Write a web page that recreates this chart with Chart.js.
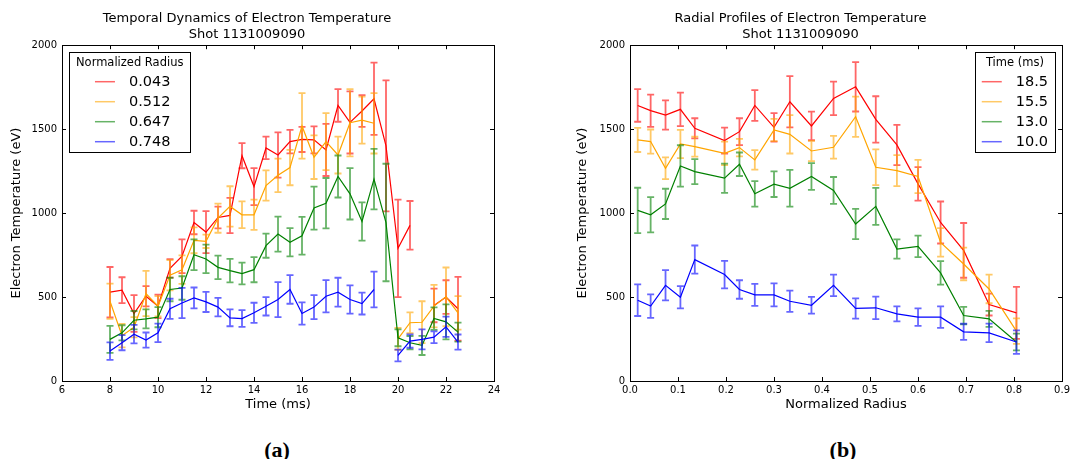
<!DOCTYPE html>
<html>
<head>
<meta charset="utf-8">
<script src="https://cdn.jsdelivr.net/npm/chart.js@4.4.0/dist/chart.umd.min.js"></script>
<style>
  html, body { margin:0; padding:0; background:#fff; }
  #wrap { position:relative; width:1073px; height:459px; overflow:hidden; background:#fff; }
  canvas { position:absolute; top:0; }
  .lab { position:absolute; font-family:"Liberation Serif","Times New Roman",serif; font-weight:bold; font-size:22px; line-height:22px; transform:translateX(-50%); color:#000; }
</style>
</head>
<body>
<div id="wrap">
  <canvas id="c1" width="536" height="420" style="left:0px;width:536px;height:420px"></canvas>
  <canvas id="c2" width="537" height="420" style="left:536px;width:537px;height:420px"></canvas>
  <div class="lab" style="left:277px;top:439px">(a)</div>
  <div class="lab" style="left:843px;top:439px">(b)</div>
</div>
<script>
// ---------- Data: temporal dynamics ----------
const times = [8, 8.5, 9, 9.5, 10, 10.5, 11, 11.5, 12, 12.5, 13, 13.5, 14, 14.5, 15, 15.5, 16, 16.5, 17, 17.5, 18, 18.5, 19, 19.5, 20, 20.5, 21, 21.5, 22, 22.5];
const radiusLabels = ['0.043', '0.512', '0.647', '0.748'];
const te_r043 = [529, 541, 402, 505, 445, 671, 743, 944, 887, 974, 986, 1342, 1158, 1388, 1346, 1426, 1439, 1436, 1376, 1641, 1540, 1608, 1681, 1400, 790, 927, null, 450, 500, 430];
const err_r043 = [150, 77, 110, 60, 70, 55, 100, 70, 125, 65, 105, 75, 110, 67, 135, 70, 75, 80, 155, 97, 185, 95, 215, 390, 290, 145, null, 100, 100, 190];
const te_r512 = [475, 270, 320, 521, 445, 630, 663, 838, 832, 970, 1040, 990, 990, 1164, 1225, 1271, 1519, 1333, 1426, 1346, 1538, 1554, 1535, null, 251, 347, 350, 446, 501, 406];
const err_r512 = [105, 70, 60, 135, 60, 90, 85, 77, 40, 87, 120, 80, 90, 90, 100, 105, 195, 130, 170, 110, 200, 140, 180, null, 65, 62, 125, 127, 175, 100];
const te_r647 = [248, 287, 362, 370, 380, 545, 554, 752, 727, 677, 657, 640, 663, 806, 875, 826, 865, 1030, 1059, 1218, 1115, 950, 1202, 944, 257, 228, 212, 372, 352, 291];
const err_r647 = [80, 45, 55, 57, 60, 70, 70, 92, 85, 70, 70, 65, 75, 72, 104, 84, 112, 128, 150, 125, 153, 114, 180, 350, 50, 40, 57, 67, 104, 57];
const te_r748 = [178, 228, 279, 244, 287, 430, 465, 495, 471, 440, 376, 372, 406, 445, 485, 545, 402, 440, 505, 529, 485, 461, 545, null, 152, 238, 248, 261, 323, 232];
const err_r748 = [52, 45, 55, 45, 55, 60, 90, 62, 60, 55, 50, 50, 60, 55, 104, 85, 66, 72, 96, 86, 84, 65, 106, null, 35, 40, 60, 35, 60, 45];

// ---------- Data: radial profiles ----------
const radii = [0.016, 0.043, 0.074, 0.105, 0.135, 0.197, 0.228, 0.260, 0.300, 0.333, 0.378, 0.424, 0.470, 0.512, 0.556, 0.600, 0.647, 0.695, 0.748, 0.805];
const timeLabels = ['18.5', '15.5', '13.0', '10.0'];
const te_t185 = [1641, 1610, 1584, 1618, 1505, 1432, 1485, 1641, 1511, 1663, 1519, 1683, 1752, 1558, 1406, 1174, 944, 778, 455, 406];
const err_t185 = [97, 96, 87, 100, 60, 77, 80, 92, 85, 153, 85, 100, 147, 138, 120, 100, 125, 163, 65, 155];
const te_t155 = [1436, 1426, 1267, 1412, 1396, 1356, 1390, 1317, 1495, 1469, 1370, 1392, 1574, 1273, 1253, 1218, 826, 697, 548, 297];
const err_t155 = [72, 72, 65, 84, 60, 70, 52, 58, 66, 114, 60, 68, 120, 106, 92, 99, 85, 97, 85, 76];
const te_t130 = [1016, 990, 1055, 1281, 1247, 1208, 1291, 1115, 1172, 1148, 1218, 1135, 935, 1040, 786, 802, 644, 390, 370, 232];
const err_t130 = [135, 105, 90, 123, 75, 87, 70, 76, 76, 110, 80, 80, 90, 110, 57, 64, 70, 52, 48, 50];
const te_t100 = [481, 446, 570, 499, 723, 634, 545, 513, 513, 475, 451, 570, 432, 436, 400, 380, 380, 293, 287, 232];
const err_t100 = [94, 70, 90, 66, 84, 82, 55, 66, 69, 63, 50, 64, 60, 67, 45, 52, 64, 48, 55, 70];

const yTicks = [0, 500, 1000, 1500, 2000];
const xTicksTime = [6, 8, 10, 12, 14, 16, 18, 20, 22, 24];
const xTicksRadius = [0.0, 0.1, 0.2, 0.3, 0.4, 0.5, 0.6, 0.7, 0.8, 0.9];

const colors = ['#ff0000', '#ffa500', '#008000', '#0000ff'];
const colorsA = ['rgba(255,0,0,0.6)', 'rgba(255,165,0,0.6)', 'rgba(0,128,0,0.6)', 'rgba(0,0,255,0.6)'];

const FONT = '"DejaVu Sans", sans-serif';

function pts(xs, ys) { return xs.map((x, i) => ({ x: x, y: ys[i] })); }

function makeDatasets(xs, series, errs, labels) {
  return series.map((s, i) => ({
    label: labels[i],
    data: pts(xs, s),
    errors: errs[i],
    borderColor: colors[i],
    backgroundColor: colors[i],
    borderWidth: 1.2,
    pointRadius: 0,
    pointHoverRadius: 0,
    tension: 0,
    spanGaps: false,
    order: 4 - i
  }));
}

// error bar plugin: draws bars for a dataset just before its line
const errorBars = {
  id: 'errorBars',
  beforeDatasetDraw(chart, args) {
    const ds = chart.data.datasets[args.index];
    const errs = ds.errors;
    if (!errs) return;
    const xs = chart.scales.x, ys = chart.scales.y;
    const ctx = chart.ctx;
    ctx.save();
    ctx.strokeStyle = colorsA[args.index];
    ctx.lineWidth = 1.8;
    ds.data.forEach((p, i) => {
      if (p.y === null || errs[i] === null || errs[i] === undefined) return;
      const px = xs.getPixelForValue(p.x);
      const y1 = ys.getPixelForValue(p.y + errs[i]);
      const y2 = ys.getPixelForValue(p.y - errs[i]);
      ctx.beginPath();
      ctx.moveTo(px, y1); ctx.lineTo(px, y2);
      ctx.moveTo(px - 3.5, y1); ctx.lineTo(px + 3.5, y1);
      ctx.moveTo(px - 3.5, y2); ctx.lineTo(px + 3.5, y2);
      ctx.stroke();
    });
    ctx.restore();
  }
};

// frame with inward ticks, matplotlib style
const frame = {
  id: 'frame',
  afterDatasetsDraw(chart) {
    const { ctx, chartArea: a } = chart;
    const xs = chart.scales.x, ys = chart.scales.y;
    ctx.save();
    ctx.strokeStyle = '#000';
    ctx.lineWidth = 1;
    ctx.beginPath();
    xs.ticks.forEach(t => {
      const px = Math.round(xs.getPixelForValue(t.value)) + 0.5;
      ctx.moveTo(px, a.bottom); ctx.lineTo(px, a.bottom - 4);
      ctx.moveTo(px, a.top); ctx.lineTo(px, a.top + 4);
    });
    ys.ticks.forEach(t => {
      const py = Math.round(ys.getPixelForValue(t.value)) + 0.5;
      ctx.moveTo(a.left, py); ctx.lineTo(a.left + 4, py);
      ctx.moveTo(a.right, py); ctx.lineTo(a.right - 4, py);
    });
    ctx.stroke();
    ctx.strokeRect(Math.round(a.left) + 0.5, Math.round(a.top) + 0.5, Math.round(a.right - a.left), Math.round(a.bottom - a.top));
    ctx.restore();
  }
};

// boxed legend with title, inside the plot area
const boxLegend = {
  id: 'boxLegend',
  afterDraw(chart, args, opts) {
    const { ctx, chartArea: a } = chart;
    const dsets = chart.data.datasets;
    ctx.save();
    ctx.font = '11.5px ' + FONT;
    const titleW = ctx.measureText(opts.title).width;
    ctx.font = '14.5px ' + FONT;
    let tw = 0;
    dsets.forEach(d => { tw = Math.max(tw, ctx.measureText(d.label).width); });
    const handle = 20, gap = 14, pad = 7;
    const itemsW = handle + gap + tw;
    const inner = Math.max(titleW, itemsW);
    const boxW = inner + 2 * pad;
    const boxH = 100;
    const left = opts.side === 'left' ? a.left + 7 : a.right - 7 - boxW;
    const top = a.top + 7;
    ctx.fillStyle = '#fff';
    ctx.fillRect(left, top, boxW, boxH);
    ctx.strokeStyle = '#000';
    ctx.lineWidth = 1;
    ctx.strokeRect(Math.round(left) + 0.5, Math.round(top) + 0.5, Math.round(boxW), boxH);
    ctx.fillStyle = '#000';
    ctx.textBaseline = 'middle';
    ctx.textAlign = 'center';
    ctx.font = '11.5px ' + FONT;
    ctx.fillText(opts.title, left + boxW / 2, top + 10.5);
    const ix = left + pad + (inner - itemsW) / 2 + opts.shift;
    ctx.textAlign = 'left';
    ctx.font = '14.5px ' + FONT;
    dsets.forEach((d, i) => {
      const y = top + 29.5 + i * 20;
      ctx.strokeStyle = colorsA[i];
      ctx.lineWidth = 1.5;
      ctx.beginPath();
      ctx.moveTo(ix, y); ctx.lineTo(ix + handle, y);
      ctx.stroke();
      ctx.fillStyle = '#000';
      ctx.fillText(d.label, ix + handle + gap, y + 0.5);
    });
    ctx.restore();
  }
};

function makeChart(id, cfg) {
  return new Chart(document.getElementById(id), {
    type: 'line',
    data: { datasets: cfg.datasets },
    plugins: [errorBars, frame, boxLegend],
    options: {
      responsive: false,
      animation: false,
      devicePixelRatio: 1,
      layout: { padding: { left: 0, right: cfg.padRight, top: 0, bottom: 0 } },
      plugins: {
        legend: { display: false },
        tooltip: { enabled: false },
        title: {
          display: true,
          text: cfg.title,
          color: '#000',
          font: { family: FONT, size: 13, weight: 'normal', lineHeight: 1.2 },
          padding: { top: 11, bottom: 3 }
        },
        boxLegend: { title: cfg.legendTitle, side: cfg.legendSide, shift: cfg.legendShift }
      },
      scales: {
        x: {
          type: 'linear',
          min: cfg.xTicks[0],
          max: cfg.xTicks[cfg.xTicks.length - 1],
          afterBuildTicks: (s) => { s.ticks = cfg.xTicks.map(v => ({ value: v })); },
          afterFit: (s) => { s.height = 39; },
          grid: { display: false, drawTicks: false },
          border: { display: false },
          ticks: {
            color: '#000',
            font: { family: FONT, size: 10 },
            padding: 3,
            maxRotation: 0,
            autoSkip: false,
            callback: cfg.xFmt
          },
          title: {
            display: true,
            text: cfg.xTitle,
            color: '#000',
            font: { family: FONT, size: 13 },
            padding: { top: 0, bottom: 8 }
          }
        },
        y: {
          type: 'linear',
          min: 0,
          max: 2000,
          afterBuildTicks: (s) => { s.ticks = yTicks.map(v => ({ value: v })); },
          afterFit: (s) => { s.width = cfg.yWidth; },
          grid: { display: false, drawTicks: false },
          border: { display: false },
          ticks: {
            color: '#000',
            font: { family: FONT, size: 10 },
            padding: 5,
            autoSkip: false,
            callback: (v) => String(v)
          },
          title: {
            display: true,
            text: 'Electron Temperature (eV)',
            color: '#000',
            font: { family: FONT, size: 13 },
            padding: { top: cfg.yTitlePad, bottom: 0 }
          }
        }
      }
    }
  });
}

makeChart('c1', {
  datasets: makeDatasets(times, [te_r043, te_r512, te_r647, te_r748], [err_r043, err_r512, err_r647, err_r748], radiusLabels),
  title: ['Temporal Dynamics of Electron Temperature', 'Shot 1131009090'],
  xTitle: 'Time (ms)',
  xTicks: xTicksTime,
  xFmt: (v) => String(v),
  yWidth: 62,
  yTitlePad: 9,
  padRight: 42,
  legendTitle: 'Normalized Radius',
  legendSide: 'left',
  legendShift: 3
});

makeChart('c2', {
  datasets: makeDatasets(radii, [te_t185, te_t155, te_t130, te_t100], [err_t185, err_t155, err_t130, err_t100], timeLabels),
  title: ['Radial Profiles of Electron Temperature', 'Shot 1131009090'],
  xTitle: 'Normalized Radius',
  xTicks: xTicksRadius,
  xFmt: (v) => Number(v).toFixed(1),
  yWidth: 94,
  yTitlePad: 39,
  padRight: 8,
  legendTitle: 'Time (ms)',
  legendSide: 'right',
  legendShift: 0
});
</script>
</body>
</html>
